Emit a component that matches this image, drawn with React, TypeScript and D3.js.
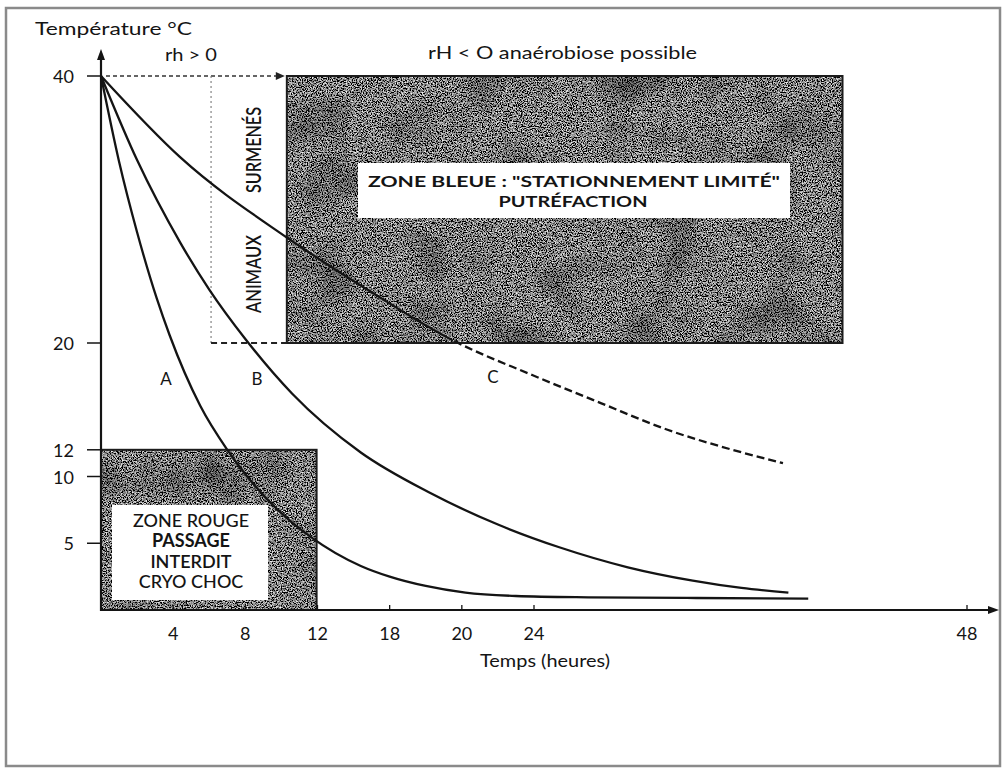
import React from "react";
import * as d3 from "d3";

// ---- Data (hours, °C) ----
const yTickValues = [40, 20, 12, 10, 5];
const yTickLabels = ["40", "20", "12", "10", "5"];
const xTickValues = [4, 8, 12, 16, 20, 24, 48];
const xTickLabels = ["4", "8", "12", "18", "20", "24", "48"];

const hoursA = [0, 1, 2, 3.1, 3.8, 5.5, 7, 8.1, 9.8, 11.6, 14.4, 16, 18, 20.2, 23, 27, 33, 39.2];
const tempA = [40, 33.6, 28.3, 23.3, 20.6, 15.3, 12.0, 10.0, 7.5, 5.5, 3.3, 2.5, 1.8, 1.3, 1.05, 0.95, 0.9, 0.85];

const hoursB = [0, 2, 4.4, 6, 8, 10.6, 14.4, 18.2, 22, 25.4, 29.2, 32.8, 35.5, 38.1];
const tempB = [40, 33.7, 27.5, 24.0, 20.3, 16.2, 11.8, 8.8, 6.4, 4.7, 3.2, 2.2, 1.65, 1.3];

const hoursC = [0, 4.4, 10.3, 15, 19.5, 23.9, 27.7, 31.4, 35, 37.8];
const tempC = [40, 33.9, 27.9, 23.8, 20.2, 17.6, 15.5, 13.5, 12.0, 11.0];
const cDashFromHour = 19.5;

const zoneRougeHours = [0, 11.95];
const zoneRougeTemps = [0, 12];
const zoneBleueHours = [10.3, 41.1];
const zoneBleueTemps = [20, 40];
const animauxHour = 6.1;

const redLines = ["ZONE ROUGE", "PASSAGE", "INTERDIT", "CRYO CHOC"];
const redWeights = [500, 700, 600, 500];

const W = 1006;
const H = 773;

export default function App() {
  const x = d3.scaleLinear().domain([0, 48]).range([101, 967]);
  const y = d3.scaleLinear().domain([0, 40]).range([610, 76]);

  const line = d3
    .line<[number, number]>()
    .x((d) => x(d[0]))
    .y((d) => y(d[1]))
    .curve(d3.curveMonotoneX);

  const ptsA = hoursA.map((h, i) => [h, tempA[i]] as [number, number]);
  const ptsB = hoursB.map((h, i) => [h, tempB[i]] as [number, number]);
  const ptsC = hoursC.map((h, i) => [h, tempC[i]] as [number, number]);

  const font = "Lato, 'Open Sans', sans-serif";
  const ink = "#141414";

  const red = {
    x: x(zoneRougeHours[0]),
    y: y(zoneRougeTemps[1]),
    w: x(zoneRougeHours[1]) - x(zoneRougeHours[0]),
    h: y(zoneRougeTemps[0]) - y(zoneRougeTemps[1]),
  };
  const blue = {
    x: x(zoneBleueHours[0]),
    y: y(zoneBleueTemps[1]),
    w: x(zoneBleueHours[1]) - x(zoneBleueHours[0]),
    h: y(zoneBleueTemps[0]) - y(zoneBleueTemps[1]),
  };
  const xa = x(animauxHour);
  const xSplit = x(cDashFromHour);

  return (
    <svg
      width={W}
      height={H}
      style={{ position: "absolute", left: 0, top: 0, display: "block", background: "#fff" }}
      fontFamily={font}
    >
      <defs>
        <filter id="grain" x="0" y="0" width="100%" height="100%">
          <feTurbulence type="fractalNoise" baseFrequency="0.8" numOctaves="2" seed="7" result="n" />
          <feColorMatrix
            in="n"
            type="matrix"
            values="2.4 0 0 0 -0.97  2.4 0 0 0 -0.97  2.4 0 0 0 -0.97  0 0 0 0 1"
            result="g"
          />
          <feTurbulence type="fractalNoise" baseFrequency="0.02" numOctaves="2" seed="3" result="b" />
          <feColorMatrix
            in="b"
            type="matrix"
            values="0 0 0 0 0  0 0 0 0 0  0 0 0 0 0  1.6 0 0 0 -0.75"
            result="blot"
          />
          <feComposite in="blot" in2="g" operator="over" result="m" />
          <feComposite in="m" in2="SourceGraphic" operator="in" />
        </filter>
        <clipPath id="solidC">
          <rect x={0} y={0} width={xSplit} height={H} />
        </clipPath>
        <clipPath id="dashC">
          <rect x={xSplit} y={0} width={W - xSplit} height={H} />
        </clipPath>
      </defs>

      <rect x={0} y={0} width={W} height={H} fill="#fff" />
      {/* frame */}
      <rect x={6} y={8} width={994} height={758} fill="none" stroke="#8a8a8a" strokeWidth={2.5} />

      {/* zones */}
      <rect x={blue.x} y={blue.y} width={blue.w} height={blue.h} fill="#555" filter="url(#grain)" />
      <rect x={blue.x} y={blue.y} width={blue.w} height={blue.h} fill="none" stroke="#1c1c1c" strokeWidth={2} />
      <rect x={red.x} y={red.y} width={red.w} height={red.h} fill="#555" filter="url(#grain)" />
      <rect x={red.x} y={red.y} width={red.w} height={red.h} fill="none" stroke="#1c1c1c" strokeWidth={2} />

      {/* label boxes */}
      <rect x={358} y={163} width={432} height={55} fill="#fff" />
      <rect x={112} y={505} width={156} height={95} fill="#fff" />

      {/* dotted guides */}
      <line x1={x(0) + 5} x2={blue.x - 6} y1={y(40)} y2={y(40)} stroke="#333" strokeWidth={1.3} strokeDasharray="4,3" />
      <path d={`M${blue.x - 2},${y(40)} l-9,-4 l0,8 z`} fill="#222" />
      <line x1={xa} x2={xa} y1={y(40)} y2={y(20)} stroke="#777" strokeWidth={1.1} strokeDasharray="2,3" />
      <line x1={xa} x2={blue.x} y1={y(20)} y2={y(20)} stroke="#222" strokeWidth={2.2} strokeDasharray="6,4" />

      {/* axes */}
      <line x1={x(0)} x2={x(0)} y1={y(0) + 1} y2={53} stroke={ink} strokeWidth={2.2} />
      <path d={`M${x(0)},49 l-4,11 l8,0 z`} fill={ink} />
      <line x1={x(0)} x2={994} y1={y(0)} y2={y(0)} stroke={ink} strokeWidth={2} />
      <path d={`M999,${y(0)} l-11,-4 l0,8 z`} fill={ink} />

      {yTickValues.map((v, i) => (
        <g key={"yt" + v}>
          <line x1={87} x2={x(0)} y1={y(v)} y2={y(v)} stroke={ink} strokeWidth={1.5} />
          <text x={74} y={y(v) + 7} textAnchor="end" fontSize={18} fill={ink}>
            {yTickLabels[i]}
          </text>
        </g>
      ))}
      {xTickValues.map((v, i) => (
        <g key={"xt" + v}>
          <line x1={x(v)} x2={x(v)} y1={y(0)} y2={y(0) - 5} stroke={ink} strokeWidth={1.3} />
          <text x={x(v)} y={640} textAnchor="middle" fontSize={18} fill={ink}>
            {xTickLabels[i]}
          </text>
        </g>
      ))}

      {/* curves */}
      <path d={line(ptsA) || ""} fill="none" stroke={ink} strokeWidth={2.3} />
      <path d={line(ptsB) || ""} fill="none" stroke={ink} strokeWidth={2.3} />
      <path d={line(ptsC) || ""} fill="none" stroke={ink} strokeWidth={2.3} clipPath="url(#solidC)" />
      <path
        d={line(ptsC) || ""}
        fill="none"
        stroke={ink}
        strokeWidth={2.3}
        strokeDasharray="8,4"
        clipPath="url(#dashC)"
      />

      {/* curve labels */}
      <text x={166} y={385} textAnchor="middle" fontSize={17} fill={ink}>A</text>
      <text x={257} y={385} textAnchor="middle" fontSize={17} fill={ink}>B</text>
      <text x={493} y={383} textAnchor="middle" fontSize={17} fill={ink}>C</text>

      {/* titles */}
      <text x={35} y={35} fontSize={17} fill={ink} textLength={157} lengthAdjust="spacingAndGlyphs">
        Température °C
      </text>
      <text x={165} y={61} fontSize={17} fill={ink} textLength={52} lengthAdjust="spacingAndGlyphs">
        rh &gt; 0
      </text>
      <text x={428} y={59} fontSize={17} fill={ink} textLength={269} lengthAdjust="spacingAndGlyphs">
        rH &lt; O anaérobiose possible
      </text>
      <text x={480} y={667} fontSize={17} fill={ink} textLength={130} lengthAdjust="spacingAndGlyphs">
        Temps (heures)
      </text>

      {/* vertical animals label */}
      <text
        transform={`translate(252,150) rotate(-90)`}
        textAnchor="middle"
        dominantBaseline="central"
        fontSize={21}
        fontWeight={600}
        fill={ink}
        textLength={86}
        lengthAdjust="spacingAndGlyphs"
      >
        SURMENÉS
      </text>
      <text
        transform={`translate(252,274) rotate(-90)`}
        textAnchor="middle"
        dominantBaseline="central"
        fontSize={21}
        fontWeight={600}
        fill={ink}
        textLength={78}
        lengthAdjust="spacingAndGlyphs"
      >
        ANIMAUX
      </text>

      {/* blue zone label */}
      <text x={574} y={187} textAnchor="middle" fontSize={16} fontWeight={700} fill={ink} textLength={412} lengthAdjust="spacingAndGlyphs">
        ZONE BLEUE : "STATIONNEMENT LIMITÉ"
      </text>
      <text x={573} y={207} textAnchor="middle" fontSize={16} fontWeight={700} fill={ink} textLength={149} lengthAdjust="spacingAndGlyphs">
        PUTRÉFACTION
      </text>

      {/* red zone label */}
      {redLines.map((t, i) => (
        <text key={t} x={191} y={527 + i * 20.3} textAnchor="middle" fontSize={18} fontWeight={redWeights[i]} fill={ink}>
          {t}
        </text>
      ))}
    </svg>
  );
}
